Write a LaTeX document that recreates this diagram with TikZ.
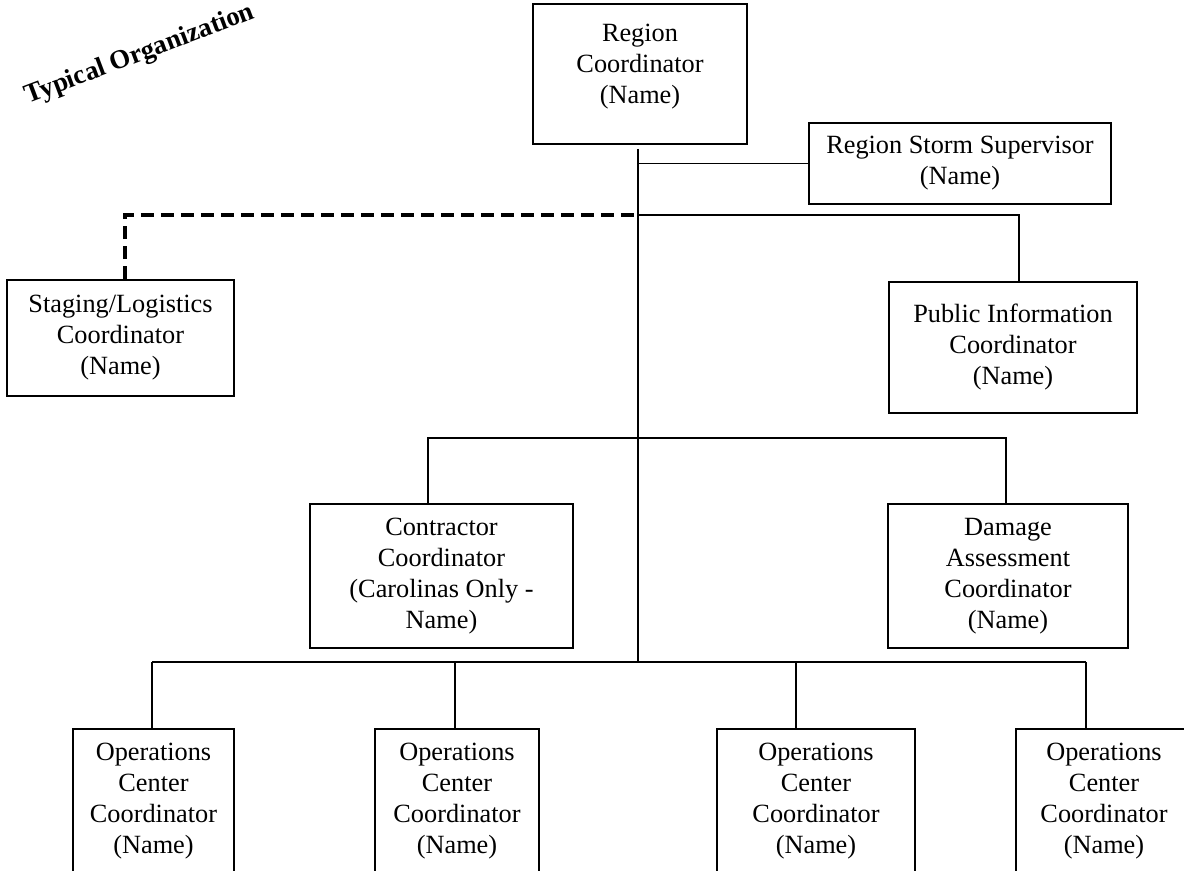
\documentclass[tikz,border=0pt]{standalone}
\usepackage{fontspec}
\setmainfont{Liberation Serif}
\usepackage{tikz}
\usetikzlibrary{positioning}
\tikzset{box/.style={draw,line width=0.9pt,align=center,inner sep=2pt,font=\fontsize{13.15}{15.5}\selectfont}}
\tikzset{link/.style={line width=0.75pt},dashlink/.style={line width=1.6pt,dash pattern=on 6.5pt off 3.5pt}}
\tikzset{heading/.style={font=\fontsize{13.4}{15.5}\selectfont\bfseries}}

\begin{document}
\begin{tikzpicture}[x=0.5pt,y=-0.5pt]
                \useasboundingbox (0,0) rectangle (1184,871);
                \clip (0,0) rectangle (1184,871);
                \node[heading,rotate=20.7] (ttl) at (140,55) {Typical Organization};
                \node[box,minimum width=107pt,minimum height=70pt,text depth=10pt] (rc) at (640,74) {Region\\Coordinator\\(Name)};
                \node[box,minimum width=151pt,minimum height=40.5pt] (rss) at (960,163.5) {Region Storm Supervisor\\(Name)};
                \node[box,minimum width=113.5pt,minimum height=58pt] (stg) at (120.5,338) {Staging/Logistics\\Coordinator\\(Name)};
                \node[box,minimum width=124pt,minimum height=65.5pt] (pub) at (1013,347.5) {Public Information\\Coordinator\\(Name)};
                \node[box,minimum width=131.5pt,minimum height=72pt] (ctr) at (441.5,576) {Contractor\\Coordinator\\(Carolinas Only -\\Name)};
                \node[box,minimum width=120pt,minimum height=72pt] (dmg) at (1008,576) {Damage\\Assessment\\Coordinator\\(Name)};
                \foreach \n/\x/\w in {1/153.5/80.5,2/457/82,3/816/99,4/1104/88}
                    \node[box,minimum width=\w pt,minimum height=72.5pt] (ops\n) at (\x,801.5) {Operations\\Center\\Coordinator\\(Name)};
                \coordinate (top) at (638,149);
                \coordinate (bot) at (638,662);
                \coordinate (up) at (638,215);
                \coordinate (pubDrop) at (1019,215);
                \coordinate (stgDrop) at (125,215);
                \coordinate (ctrDrop) at (428,438);
                \coordinate (dmgDrop) at (1006,438);
            \draw[link] (top) -- (bot);
            \draw[link] (top |- rss.west) -- (rss.west);
            \draw[link] (up) -- (pubDrop) -- (pubDrop |- pub.north);
            \draw[dashlink] (stgDrop |- stg.north) -- (stgDrop) -- (up);
            \draw[link] (ctrDrop |- ctr.north) -- (ctrDrop) -- (dmgDrop) -- (dmgDrop |- dmg.north);
            \foreach \n/\x in {1/152,2/455,3/796,4/1086} {
                \coordinate (opsDrop\n) at (\x,662);
                \draw[link] (opsDrop\n) -- (opsDrop\n |- ops\n.north);
            }
            \draw[link] (opsDrop1) -- (opsDrop4);
\end{tikzpicture}
\end{document}
